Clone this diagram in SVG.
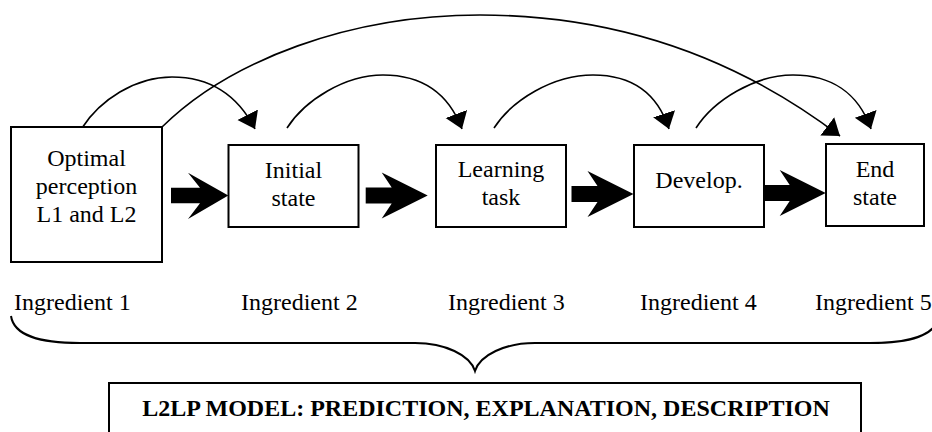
<svg xmlns="http://www.w3.org/2000/svg" width="932" height="432" viewBox="0 0 932 432">
<defs>
<style>
.box{fill:#fff;stroke:#000;stroke-width:2}
.t{font-size:24px;fill:#000;text-anchor:middle}
.lbl{font-size:24px;fill:#000}
.b{font-size:24px;font-weight:bold;fill:#000;text-anchor:middle}
.arc{fill:none;stroke:#000;stroke-width:1.6}
.blk{fill:#000;stroke:none}
.brace{fill:none;stroke:#000;stroke-width:2}
</style>
<marker id="ah" markerUnits="userSpaceOnUse" markerWidth="20" markerHeight="26" refX="16" refY="11.5" orient="auto" viewBox="0 0 20 26">
<path d="M0,0 L16,11.5 L0,23 z" fill="#000"/>
</marker>
<path id="blockArrow" d="M0,0 L-46,-23 L-36,-8 L-62,-8 L-62,8 L-36,8 L-46,23 z"/>
</defs>
<rect width="932" height="432" fill="#fff"/>

<g id="connectors">
<path d="M171,187.7 L200,187.7 L188,172.7 L228.3,195.5 L188,219 L200,203.3 L171,203.3 z" class="blk"/>
<use href="#blockArrow" class="blk" transform="translate(427.7,195.5)"/>
<use href="#blockArrow" class="blk" transform="translate(633.5,194)"/>
<use href="#blockArrow" class="blk" transform="translate(825.7,193)"/>
<path class="arc" marker-end="url(#ah)" d="M82,128 C100,100 135,77 172,77 C205,77 235,90 255,129"/>
<path class="arc" marker-end="url(#ah)" d="M287,128 C305,100 345,75 383,75 C420,75 448,92 462,129"/>
<path class="arc" marker-end="url(#ah)" d="M494,128 C512,100 553,75 593,75 C630,75 657,92 669,129"/>
<path class="arc" marker-end="url(#ah)" d="M696,128 C714,100 755,75 793,75 C830,75 858,92 871,129"/>
<path class="arc" marker-end="url(#ah)" d="M162,127 C230,60 350,15 480,15 C620,15 740,60 840,136"/>
</g>

<g font-family="'Liberation Serif', 'Times New Roman', Times, serif">
<g id="node1">
<rect class="box" x="11" y="127" width="151" height="135"/>
<text class="t" x="86.5" y="166">Optimal</text>
<text class="t" x="86.5" y="194">perception</text>
<text class="t" x="86.5" y="222">L1 and L2</text>
</g>
<g id="node2">
<rect class="box" x="228.5" y="145" width="130" height="82"/>
<text class="t" x="293.5" y="177.5">Initial</text>
<text class="t" x="293.5" y="206">state</text>
</g>
<g id="node3">
<rect class="box" x="436" y="145" width="130" height="82"/>
<text class="t" x="501" y="176.5">Learning</text>
<text class="t" x="501" y="204.5">task</text>
</g>
<g id="node4">
<rect class="box" x="634" y="145" width="130" height="82"/>
<text class="t" x="699" y="188">Develop.</text>
</g>
<g id="node5">
<rect class="box" x="826" y="144" width="98" height="82"/>
<text class="t" x="875" y="177">End</text>
<text class="t" x="875" y="205">state</text>
</g>

<g id="ingredients">
<text class="lbl" x="14" y="309.5">Ingredient 1</text>
<text class="lbl" x="241" y="309.5">Ingredient 2</text>
<text class="lbl" x="448" y="309.5">Ingredient 3</text>
<text class="lbl" x="640" y="309.5">Ingredient 4</text>
<text class="lbl" x="815" y="309.5">Ingredient 5</text>
</g>

<g id="brace">
<path class="brace" d="M11,316 C14,336 40,343 80,343 L415,343 C445,343 470,355 475,371 C480,355 505,343 535,343 L870,343 C910,343 936,336 939,316"/>
</g>

<g id="model">
<rect class="box" x="109" y="383" width="752" height="60"/>
<text class="b" x="486" y="415.5">L2LP MODEL: PREDICTION, EXPLANATION, DESCRIPTION</text>
</g>
</g>
</svg>
